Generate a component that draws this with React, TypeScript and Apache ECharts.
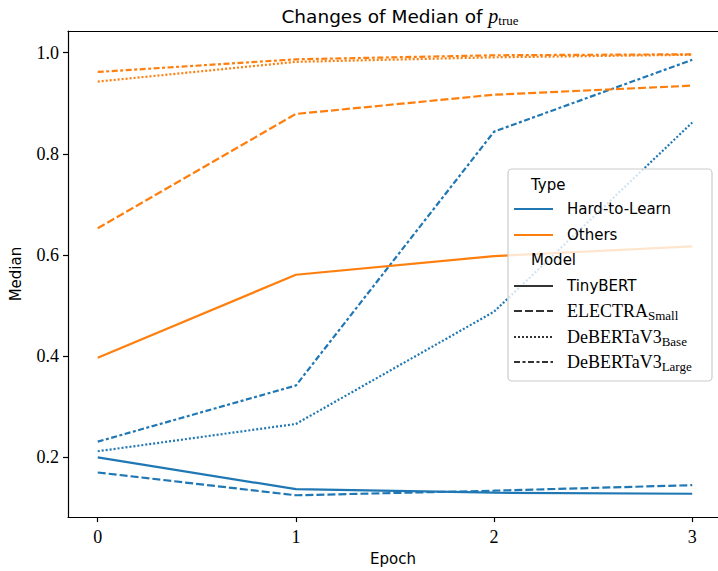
import React, { useEffect, useRef } from "react";
import * as echarts from "echarts";

const epochs = [0, 1, 2, 3];
const xTicks = [0, 1, 2, 3];
const yTicks = [0.2, 0.4, 0.6, 0.8, 1.0];

const hardTinyBERT = [0.2, 0.137, 0.13, 0.128];
const hardElectraSmall = [0.17, 0.125, 0.134, 0.145];
const hardDebertaBase = [0.212, 0.266, 0.488, 0.862];
const hardDebertaLarge = [0.231, 0.342, 0.844, 0.986];
const othersTinyBERT = [0.397, 0.561, 0.598, 0.617];
const othersElectraSmall = [0.653, 0.879, 0.917, 0.935];
const othersDebertaBase = [0.943, 0.982, 0.991, 0.996];
const othersDebertaLarge = [0.962, 0.987, 0.995, 0.997];

const BLUE = "#1f77b4";
const ORANGE = "#ff7f0e";
const SANS = "DejaVu Sans";
const SERIF = "Liberation Serif";

const DASH_SOLID: any = "solid";
const DASH_DASHED = [8, 3];
const DASH_DOTTED = [2, 2];
const DASH_DASHDOT = [6, 2.5, 3, 2.5];

export default function App() {
  const ref = useRef<HTMLDivElement>(null);
  useEffect(() => {
    if (!ref.current) return;
    const chart = echarts.init(ref.current, null, { renderer: "svg" });
    const mk = (name: string, data: number[], color: string, type: any) => ({
      name,
      type: "line",
      xAxisIndex: 0,
      data: epochs.map((e, i) => [e, data[i]]),
      showSymbol: false,
      symbol: "none",
      lineStyle: { color, width: 2.2, type, cap: "butt" },
      itemStyle: { color },
      z: 2,
    });

    const lx0 = 514;
    const lx1 = 553;
    const tx = 567;
    const legendRows: any[] = [];
    const addLine = (y: number, color: string, dash: any) => {
      legendRows.push({
        type: "line",
        shape: { x1: lx0, y1: y, x2: lx1, y2: y },
        style: { stroke: color, lineWidth: 2.2, lineDash: dash === "solid" ? null : dash },
        z: 101,
      });
    };
    const addText = (y: number, text: string, rich?: any, font = SANS, size = 15) => {
      legendRows.push({
        type: "text",
        x: tx,
        y,
        style: {
          text,
          font: `${size}px "${font}"`,
          fill: "#000",
          verticalAlign: "middle",
          align: "left",
          rich,
        },
        z: 101,
      });
    };
    const subRich = {
      m: { fontFamily: SERIF, fontSize: 18, color: "#000", lineHeight: 20 },
      s: { fontFamily: SERIF, fontSize: 13, color: "#000", lineHeight: 20, padding: [9, 0, 0, 0] },
    };

    addLine(209, BLUE, "solid");
    addLine(235, ORANGE, "solid");
    addLine(286, "#333", "solid");
    addLine(311, "#333", DASH_DASHED);
    addLine(337, "#333", DASH_DOTTED);
    addLine(362, "#333", DASH_DASHDOT);
    addText(209, "Hard-to-Learn");
    addText(235, "Others");
    addText(286, "TinyBERT");
    addText(311, "{m|ELECTRA}{s|Small}", subRich);
    addText(337, "{m|DeBERTaV3}{s|Base}", subRich);
    addText(362, "{m|DeBERTaV3}{s|Large}", subRich);

    const XMIN = -0.15;
    const XMAX = 3.13;

    chart.setOption({
      animation: false,
      backgroundColor: "#fff",
      title: {
        text: "{a|Changes of Median of }{p|p}{s|true}",
        left: 395,
        top: 0,
        textAlign: "center",
        textStyle: {
          fontWeight: "normal",
          rich: {
            a: { fontFamily: SANS, fontSize: 18.5, fontWeight: "normal", color: "#000", lineHeight: 22 },
            p: { fontFamily: SERIF, fontStyle: "italic", fontWeight: "normal", fontSize: 20, color: "#000", lineHeight: 22 },
            s: { fontFamily: SERIF, fontSize: 13, fontWeight: "normal", color: "#000", lineHeight: 22, padding: [8, 0, 0, 0] },
          },
        },
      },
      grid: {
        left: 67,
        right: 0,
        top: 31,
        bottom: 52,
        show: false,
      },
      xAxis: [
        {
          type: "value",
          position: "bottom",
          min: XMIN,
          max: XMAX,
          name: "Epoch",
          nameLocation: "middle",
          nameGap: 33,
          nameTextStyle: { fontFamily: SANS, fontSize: 15, color: "#000" },
          axisLine: { show: true, onZero: false, lineStyle: { color: "#000", width: 1.2 } },
          axisTick: { show: true, length: 5, inside: false, customValues: xTicks, lineStyle: { color: "#000", width: 1.2 } },
          axisLabel: {
            customValues: xTicks,
            formatter: (v: number) => String(v),
            fontFamily: SERIF,
            fontSize: 18,
            color: "#000",
            margin: 11,
          },
          splitLine: { show: false },
        },
        {
          type: "value",
          position: "top",
          min: XMIN,
          max: XMAX,
          axisLine: { show: true, onZero: false, lineStyle: { color: "#000", width: 1.2 } },
          axisTick: { show: false },
          axisLabel: { show: false },
          splitLine: { show: false },
        },
      ],
      yAxis: {
        type: "value",
        min: 0.0818,
        max: 1.043,
        name: "Median",
        nameLocation: "middle",
        nameGap: 45,
        nameRotate: 90,
        nameTextStyle: { fontFamily: SANS, fontSize: 15, color: "#000" },
        axisLine: { show: true, onZero: false, lineStyle: { color: "#000", width: 1.2 } },
        axisTick: { show: true, length: 5, inside: false, customValues: yTicks, lineStyle: { color: "#000", width: 1.2 } },
        axisLabel: {
          customValues: yTicks,
          formatter: (v: number) => v.toFixed(1),
          fontFamily: SERIF,
          fontSize: 18,
          color: "#000",
          margin: 9,
        },
        splitLine: { show: false },
      },
      series: [
        mk("Hard TinyBERT", hardTinyBERT, BLUE, DASH_SOLID),
        mk("Hard ELECTRA", hardElectraSmall, BLUE, DASH_DASHED),
        mk("Hard DeBERTaV3 Base", hardDebertaBase, BLUE, DASH_DOTTED),
        mk("Hard DeBERTaV3 Large", hardDebertaLarge, BLUE, DASH_DASHDOT),
        mk("Others TinyBERT", othersTinyBERT, ORANGE, DASH_SOLID),
        mk("Others ELECTRA", othersElectraSmall, ORANGE, DASH_DASHED),
        mk("Others DeBERTaV3 Base", othersDebertaBase, ORANGE, DASH_DOTTED),
        mk("Others DeBERTaV3 Large", othersDebertaLarge, ORANGE, DASH_DASHDOT),
      ],
      graphic: [
        {
          type: "rect",
          shape: { x: 508, y: 169, width: 204, height: 212, r: 4 },
          style: { fill: "rgba(255,255,255,0.8)", stroke: "#cccccc", lineWidth: 1.2 },
          z: 100,
        },
        {
          type: "text",
          x: 531,
          y: 185,
          style: { text: "Type", font: `15px "${SANS}"`, fill: "#000", verticalAlign: "middle" },
          z: 101,
        },
        {
          type: "text",
          x: 531,
          y: 260,
          style: { text: "Model", font: `15px "${SANS}"`, fill: "#000", verticalAlign: "middle" },
          z: 101,
        },
        ...legendRows,
      ],
    });
    return () => chart.dispose();
  }, []);
  return (
    <div
      ref={ref}
      style={{ position: "absolute", left: 0, top: 0, width: 718, height: 571 }}
    />
  );
}
